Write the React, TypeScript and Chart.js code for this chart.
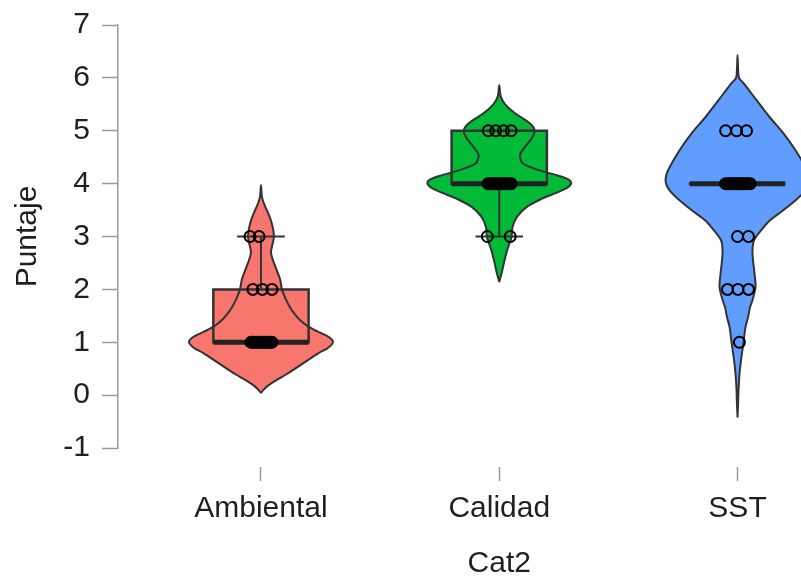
import React, { useEffect, useRef } from 'react';
import { Chart, registerables } from 'chart.js';

Chart.register(...registerables);

// ---------- data ----------
const categories = ['Ambiental', 'Calidad', 'SST'];
const fillColors = ['#F8766D', '#00BA38', '#619CFF'];
const yTicks = [-1, 0, 1, 2, 3, 4, 5, 6, 7];

// violin density profiles (y level, relative density)
const ambientalViolinY = [0.04, 0.1, 0.18, 0.28, 0.4, 0.55, 0.7, 0.8, 0.88, 0.95, 1.0, 1.05, 1.12, 1.2, 1.3, 1.42, 1.55, 1.66, 1.85, 2.0, 2.2, 2.4, 2.55, 2.7, 2.85, 3.0, 3.15, 3.3, 3.45, 3.6, 3.75, 3.97];
const ambientalViolinD = [0, 2.5, 7, 15, 26, 38, 50, 58, 66, 70.5, 72, 71, 66, 57, 47, 39, 33, 29, 24, 21, 19, 15, 12, 10, 11.5, 13, 12, 10, 7, 3.5, 1, 0];

const calidadViolinY = [2.14, 2.33, 2.52, 2.74, 2.99, 3.18, 3.37, 3.56, 3.72, 3.82, 3.9, 3.96, 4.02, 4.08, 4.15, 4.25, 4.38, 4.54, 4.69, 4.86, 5.0, 5.14, 5.33, 5.5, 5.65, 5.86];
const calidadViolinD = [0, 2.7, 5, 8, 12.5, 13.5, 18, 28, 44, 57, 67, 71.5, 73, 70, 60, 41, 24, 21, 26, 33, 36, 31, 16, 6, 1.5, 0];

const sstViolinY = [-0.42, -0.2, 0.1, 0.4, 0.66, 1.0, 1.29, 1.47, 1.66, 1.8, 2.04, 2.3, 2.55, 2.75, 2.93, 3.15, 3.3, 3.5, 3.7, 3.85, 3.95, 4.05, 4.18, 4.31, 4.63, 4.95, 5.26, 5.58, 5.9, 6.0, 6.2, 6.43];
const sstViolinD = [0, 0.5, 1, 2, 3.5, 6, 8, 10.5, 12.5, 15, 18, 17, 15.5, 15, 16.5, 25, 32, 46, 59, 67, 70.5, 72, 71, 68, 58, 46, 32, 19, 6, 1.5, 0.5, 0];

// box plot statistics
const q1 = [1, 4, 4];
const medians = [1, 4, 4];
const q3 = [2, 5, 4];
const whiskerLow = [1, 3, 4];
const whiskerHigh = [3, 5, 4];

// jittered observations
const ambientalValues = [3, 3, 2, 2, 2, 1, 1, 1, 1, 1, 1, 1, 1, 1, 1, 1, 1];
const ambientalJitter = [-0.046, -0.008, -0.034, 0.006, 0.046, -0.042, -0.034, -0.026, -0.018, -0.010, -0.002, 0.006, 0.014, 0.022, 0.030, 0.038, 0.046];

const calidadValues = [5, 5, 5, 5, 4, 4, 4, 4, 4, 4, 4, 4, 4, 4, 4, 4, 4, 3, 3];
const calidadJitter = [-0.046, -0.015, 0.018, 0.050, -0.047, -0.039, -0.031, -0.023, -0.015, -0.007, 0.001, 0.009, 0.017, 0.025, 0.033, 0.041, 0.050, -0.050, 0.046];

const sstValues = [5, 5, 5, 4, 4, 4, 4, 4, 4, 4, 4, 4, 4, 4, 4, 4, 3, 3, 2, 2, 2, 1];
const sstJitter = [-0.050, -0.004, 0.038, -0.050, -0.041, -0.032, -0.024, -0.016, -0.008, 0.000, 0.008, 0.016, 0.024, 0.033, 0.043, 0.053, 0.000, 0.046, -0.042, 0.002, 0.046, 0.008];

const violinY = [ambientalViolinY, calidadViolinY, sstViolinY];
const violinD = [ambientalViolinD, calidadViolinD, sstViolinD];
const pointValues = [ambientalValues, calidadValues, sstValues];
const pointJitter = [ambientalJitter, calidadJitter, sstJitter];

// ---------- styling constants ----------
const VIOLIN_HALF = 0.302;
const BOX_HALF = 0.2;
const CAP_HALF = 0.1;
const FONT = { family: "'Liberation Sans', Arial, Helvetica, sans-serif", size: 30 };
const TEXT = '#1f1f1f';
const AXIS = '#9a9a9a';
const DARK = '#333333';

function violinPath(center: number, ys: number[], ds: number[]) {
  const m = Math.max(...ds);
  const right = ys.map((y, i) => ({ x: center + (ds[i] / m) * VIOLIN_HALF, y }));
  const left = ys.map((y, i) => ({ x: center - (ds[i] / m) * VIOLIN_HALF, y })).reverse();
  return [...right, ...left.slice(1)];
}

function boxPath(center: number, lo: number, hi: number) {
  return [
    { x: center - BOX_HALF, y: lo },
    { x: center + BOX_HALF, y: lo },
    { x: center + BOX_HALF, y: hi },
    { x: center - BOX_HALF, y: hi },
    { x: center - BOX_HALF, y: lo },
  ];
}

export default function App() {
  const ref = useRef<HTMLCanvasElement>(null);

  useEffect(() => {
    const canvas = ref.current;
    if (!canvas) return;
    const lineBase = { showLine: true, pointRadius: 0, pointHoverRadius: 0 };
    const datasets: any[] = [];

    categories.forEach((cat, i) => {
      const c = i + 1;
      datasets.push({
        ...lineBase, label: cat + ' box fill', data: boxPath(c, q1[i], q3[i]),
        fill: 'shape', backgroundColor: fillColors[i], borderColor: 'rgba(0,0,0,0)', borderWidth: 0.01, tension: 0, order: 60,
      });
      datasets.push({
        ...lineBase, label: cat + ' violin', data: violinPath(c, violinY[i], violinD[i]),
        fill: 'shape', backgroundColor: fillColors[i], borderColor: DARK, borderWidth: 2, tension: 0.3, order: 50,
      });
      datasets.push({
        ...lineBase, label: cat + ' box', data: boxPath(c, q1[i], q3[i]),
        fill: false, borderColor: DARK, borderWidth: 2.5, tension: 0, order: 40,
        borderJoinStyle: 'miter', borderCapStyle: 'square',
      });
      datasets.push({
        ...lineBase, label: cat + ' whiskers',
        data: [
          { x: c, y: q3[i] }, { x: c, y: whiskerHigh[i] }, { x: c, y: null },
          { x: c - CAP_HALF, y: whiskerHigh[i] }, { x: c + CAP_HALF, y: whiskerHigh[i] }, { x: c, y: null },
          { x: c, y: q1[i] }, { x: c, y: whiskerLow[i] }, { x: c, y: null },
          { x: c - CAP_HALF, y: whiskerLow[i] }, { x: c + CAP_HALF, y: whiskerLow[i] },
        ],
        fill: false, borderColor: DARK, borderWidth: 2, tension: 0, order: 30, spanGaps: false,
      });
      datasets.push({
        ...lineBase, label: cat + ' median',
        data: [{ x: c - BOX_HALF, y: medians[i] }, { x: c + BOX_HALF, y: medians[i] }],
        fill: false, borderColor: '#222222', borderWidth: 5, tension: 0, order: 20,
      });
    });

    const pts: { x: number; y: number }[] = [];
    pointValues.forEach((vals, i) => {
      vals.forEach((v, j) => pts.push({ x: i + 1 + pointJitter[i][j], y: v }));
    });
    datasets.push({
      label: 'obs', data: pts, showLine: false, pointStyle: 'circle', pointRadius: 5.5,
      pointBorderWidth: 2, pointBorderColor: '#000000', pointBackgroundColor: 'rgba(0,0,0,0)', order: 1,
    });

    const chart = new Chart(canvas, {
      type: 'scatter',
      data: { datasets },
      options: {
        responsive: false,
        animation: false,
        events: [],
        layout: { padding: { top: 25, left: 0, right: 0, bottom: 0 } },
        plugins: { legend: { display: false }, tooltip: { enabled: false } },
        scales: {
          x: {
            type: 'linear', min: 0.4, max: 3.6,
            afterBuildTicks: (s: any) => { s.ticks = categories.map((_, i) => ({ value: i + 1 })); },
            afterFit: (s: any) => { s.height = 131; },
            grid: { drawOnChartArea: false, tickLength: 33, tickColor: AXIS, tickWidth: 1.5, tickBorderDash: [0, 19, 14, 200] } as any,
            border: { display: false },
            ticks: {
              callback: (v: any) => categories[Math.round(Number(v)) - 1] ?? '',
              font: FONT, color: TEXT, padding: 10, maxRotation: 0, autoSkip: false,
            },
            title: { display: true, text: 'Cat2', font: FONT, color: TEXT, padding: { top: 0, bottom: -3 } },
          },
          y: {
            type: 'linear', min: -1, max: 7,
            afterBuildTicks: (s: any) => { s.ticks = yTicks.map((v) => ({ value: v })); },
            afterFit: (s: any) => { s.width = 118; s.paddingTop = 0; s.paddingBottom = 0; },
            grid: { drawOnChartArea: false, tickLength: 16, tickColor: AXIS, tickWidth: 1.5 },
            border: { display: true, color: AXIS, width: 1.5 },
            ticks: { callback: (v: any) => String(v), font: FONT, color: TEXT, padding: 12, autoSkip: false },
            title: { display: true, text: 'Puntaje', font: FONT, color: TEXT, padding: { top: 10, bottom: 0 } },
          },
        },
      },
    });
    return () => chart.destroy();
  }, []);

  return (
    <div style={{ position: 'fixed', left: 0, top: 0, width: 801, height: 579, overflow: 'hidden', background: '#ffffff' }}>
      <canvas ref={ref} width={888} height={579} style={{ display: 'block' }} />
    </div>
  );
}
